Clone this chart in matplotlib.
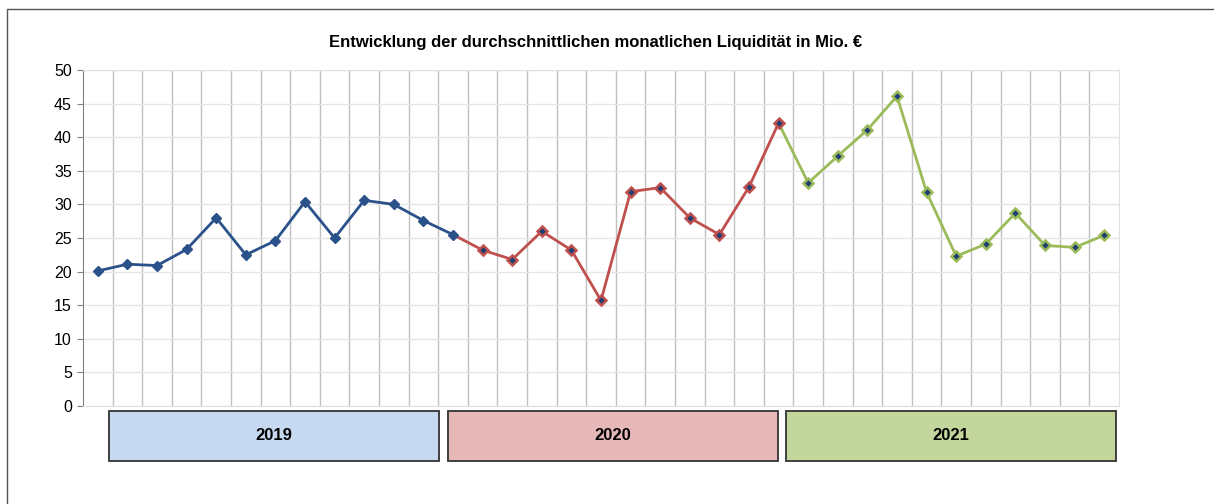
import numpy as np
import matplotlib
matplotlib.use("Agg")
from matplotlib import pyplot as plt
from matplotlib.patches import Rectangle
from matplotlib.lines import Line2D

plt.rcParams['font.family'] = ['Liberation Sans', 'DejaVu Sans']

# monthly liquidity values (Mio. EUR)
vals_2019 = [20.1, 21.1, 20.9, 23.3, 28.0, 22.5, 24.6, 30.4, 25.0, 30.6, 30.0, 27.6, 25.5]
vals_2020 = [23.2, 21.8, 26.0, 23.2, 15.7, 31.9, 32.5, 28.0, 25.5, 32.6, 42.1]
vals_2021 = [33.2, 37.2, 41.1, 46.1, 31.8, 22.3, 24.1, 28.7, 23.9, 23.6, 25.4]

years = ["2019", "2020", "2021"]
line_colors = ["#2a5189", "#c0504d", "#9bbb59"]
box_colors = ["#c6d9f1", "#e6b9b8", "#c3d69b"]
title = "Entwicklung der durchschnittlichen monatlichen Liquidität in Mio. €"

fig = plt.figure(figsize=(12.14, 5.04), dpi=100)
ax = fig.add_axes([83 / 1214, 1 - 406 / 504, 1036 / 1214, 336 / 504])

n1, n2, n3 = len(vals_2019), len(vals_2020), len(vals_2021)
x1 = np.arange(n1)
x2 = np.arange(n1 - 1, n1 + n2)
x3 = np.arange(n1 + n2 - 1, n1 + n2 + n3)
y2 = [vals_2019[-1]] + vals_2020
y3 = [vals_2020[-1]] + vals_2021

# lines (each year's line starts at the last point of the previous year)
ax.plot(x2, y2, color=line_colors[1], lw=2, zorder=3)
ax.plot(x3, y3, color=line_colors[2], lw=2, zorder=3)
ax.plot(x1, vals_2019, color=line_colors[0], lw=2, zorder=4,
        marker='D', ms=5.5, mfc=line_colors[0], mec=line_colors[0])
# markers of 2020/2021: coloured diamond with dark centre
ax.plot(x2[1:], vals_2020, ls='none', marker='D', ms=5.5, mfc="#1f3f73",
        mec=line_colors[1], mew=1.8, zorder=5)
ax.plot(x3[1:], vals_2021, ls='none', marker='D', ms=5.5, mfc="#1f3f73",
        mec=line_colors[2], mew=1.8, zorder=5)

total = n1 + n2 + n3
ax.set_xlim(-0.5, total - 0.5)
ax.set_ylim(0, 50)
ax.set_yticks(np.arange(0, 51, 5))
ax.set_xticks([])
ax.set_xticks(np.arange(0.5, total - 1, 1), minor=True)
ax.tick_params(axis='x', which='minor', length=0)
ax.tick_params(axis='y', length=4, color='#808080', labelsize=11.5, pad=4)

ax.grid(axis='y', color='#e6e6e6', lw=1)
ax.grid(axis='x', which='minor', color='#c0c0c0', lw=1)
ax.set_axisbelow(True)
for s in ['top', 'right', 'bottom']:
    ax.spines[s].set_color('#e0e0e0')
ax.spines['left'].set_color('#808080')

fig.text(596 / 1214, 1 - 42 / 504, title, ha='center', va='center',
         fontsize=12, fontweight='bold')

# year boxes below the axis
box_left = [109, 448, 786]
for yr, bc, bx in zip(years, box_colors, box_left):
    r = Rectangle((bx / 1214, 1 - 461 / 504), 330 / 1214, 50 / 504,
                  transform=fig.transFigure, facecolor=bc, edgecolor='#333333',
                  lw=1.3)
    fig.patches.append(r)
    fig.text((bx + 165) / 1214, 1 - 436 / 504, yr, ha='center', va='center',
             fontsize=12, fontweight='bold')

# outer frame (left and top edge)
fig.add_artist(Line2D([7 / 1214, 7 / 1214, 1], [0, 1 - 9 / 504, 1 - 9 / 504],
                      transform=fig.transFigure, color='#555555', lw=1.0))

fig.savefig("out.png", dpi=100)
